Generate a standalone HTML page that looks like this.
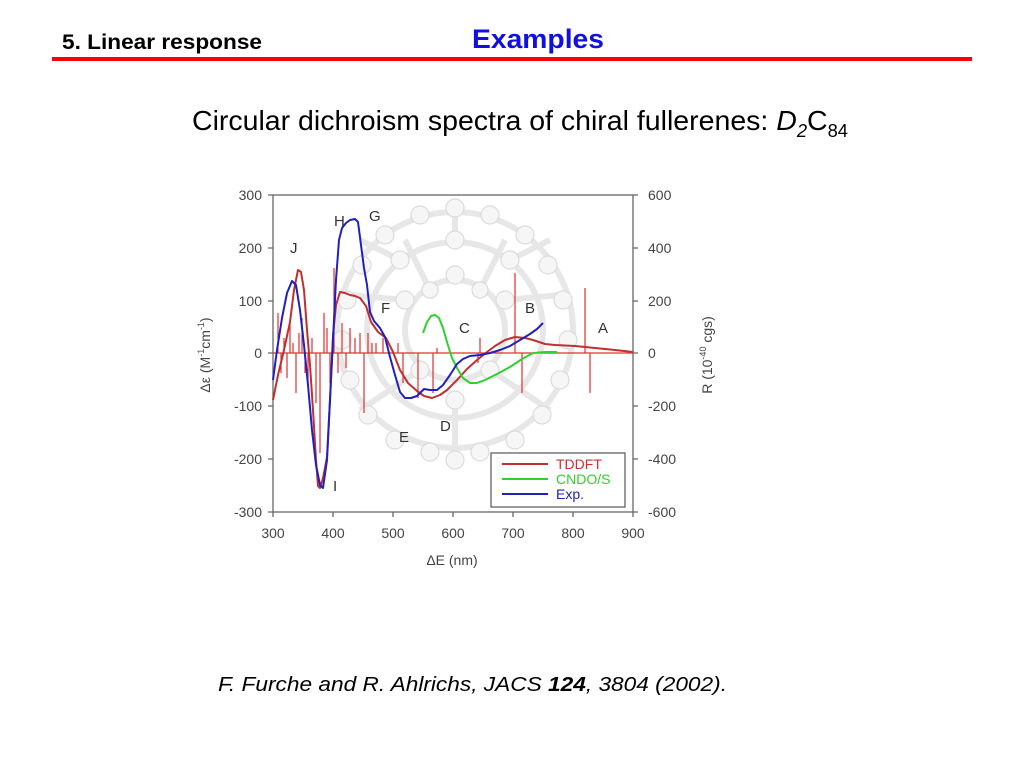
<!DOCTYPE html>
<html><head><style>
body{margin:0;background:#fff;width:1024px;height:768px;overflow:hidden}
svg{display:block;font-family:"Liberation Sans",Arial,sans-serif}
</style></head><body>
<svg width="1024" height="768" viewBox="0 0 1024 768">
<text x="62" y="49" font-size="21" font-weight="bold" fill="#000" textLength="200" lengthAdjust="spacingAndGlyphs">5. Linear response</text>
<text x="472" y="48" font-size="27" font-weight="bold" fill="#1010e0" textLength="132" lengthAdjust="spacingAndGlyphs">Examples</text>
<rect x="52" y="57" width="920" height="4" fill="#ff0000"/>
<text x="192" y="130" font-size="28" fill="#000" textLength="656" lengthAdjust="spacingAndGlyphs">Circular dichroism spectra of chiral fullerenes: <tspan font-style="italic">D</tspan><tspan font-size="18" dy="7" font-style="italic">2</tspan><tspan dy="-7">C</tspan><tspan font-size="18" dy="7">84</tspan></text>

<!-- fullerene background -->
<g opacity="0.7">
<g fill="none" stroke="#ddd" stroke-width="6">
<circle cx="455" cy="330" r="118"/>
<circle cx="455" cy="330" r="88"/>
<circle cx="455" cy="330" r="50"/>
<path d="M455 210v30M400 260l-40-20M510 260l40-20M405 300l-55-5M505 300l55-5M420 370l-60 40M490 370l60 40M455 400v50M430 290l-25-50M480 290l25-50"/>
</g>
<g fill="#f3f3f3" stroke="#ccc" stroke-width="1.2">
<circle cx="455" cy="208" r="9"/><circle cx="420" cy="215" r="9"/><circle cx="490" cy="215" r="9"/>
<circle cx="385" cy="235" r="9"/><circle cx="525" cy="235" r="9"/><circle cx="362" cy="265" r="9"/>
<circle cx="548" cy="265" r="9"/><circle cx="347" cy="300" r="9"/><circle cx="563" cy="300" r="9"/>
<circle cx="342" cy="340" r="9"/><circle cx="568" cy="340" r="9"/><circle cx="350" cy="380" r="9"/>
<circle cx="560" cy="380" r="9"/><circle cx="368" cy="415" r="9"/><circle cx="542" cy="415" r="9"/>
<circle cx="395" cy="440" r="9"/><circle cx="515" cy="440" r="9"/><circle cx="430" cy="452" r="9"/>
<circle cx="480" cy="452" r="9"/><circle cx="455" cy="275" r="9"/><circle cx="405" cy="300" r="9"/>
<circle cx="505" cy="300" r="9"/><circle cx="420" cy="370" r="9"/><circle cx="490" cy="370" r="9"/>
<circle cx="455" cy="400" r="9"/><circle cx="455" cy="240" r="9"/><circle cx="400" cy="260" r="9"/><circle cx="510" cy="260" r="9"/>
<circle cx="430" cy="290" r="8"/><circle cx="480" cy="290" r="8"/><circle cx="455" cy="460" r="9"/>
</g></g>

<!-- axes -->
<g stroke="#666" stroke-width="1.3" fill="none">
<rect x="273" y="195" width="360" height="317"/>
<path d="M268 195h5M268 248h5M268 301h5M268 353h5M268 406h5M268 459h5M268 512h5"/>
<path d="M633 195h5M633 248h5M633 301h5M633 353h5M633 406h5M633 459h5M633 512h5"/>
<path d="M273 512v5M333 512v5M393 512v5M453 512v5M513 512v5M573 512v5M633 512v5"/>
</g>
<g font-size="14" fill="#444" text-anchor="end">
<text x="262" y="200">300</text><text x="262" y="253">200</text><text x="262" y="306">100</text><text x="262" y="358">0</text><text x="262" y="411">-100</text><text x="262" y="464">-200</text><text x="262" y="517">-300</text>
</g>
<g font-size="14" fill="#444">
<text x="648" y="200">600</text><text x="648" y="253">400</text><text x="648" y="306">200</text><text x="648" y="358">0</text><text x="648" y="411">-200</text><text x="648" y="464">-400</text><text x="648" y="517">-600</text>
</g>
<g font-size="14" fill="#444" text-anchor="middle">
<text x="273" y="538">300</text><text x="333" y="538">400</text><text x="393" y="538">500</text><text x="453" y="538">600</text><text x="513" y="538">700</text><text x="573" y="538">800</text><text x="633" y="538">900</text>
<text x="452" y="565">ΔE (nm)</text>
</g>
<text transform="translate(210,355) rotate(-90)" font-size="14" fill="#444" text-anchor="middle">Δε (M<tspan font-size="9" dy="-6">-1</tspan><tspan dy="6">cm</tspan><tspan font-size="9" dy="-6">-1</tspan><tspan dy="6">)</tspan></text>
<text transform="translate(712,355) rotate(-90)" font-size="14" fill="#444" text-anchor="middle">R (10<tspan font-size="9" dy="-6">-40</tspan><tspan dy="6"> cgs)</tspan></text>

<!-- sticks -->
<g stroke="#e03030" stroke-width="1.2">
<path d="M273 353h360"/>
<path d="M278 353v-40M281 353v20M284 353v-15M287 353v25M290 353v-30M293 353v-10M296 353v40M299 353v-20M302 353v-35M305 353v20M308 353v30M312 353v-15M316 353v50M320 353v100M324 353v-40M327 353v-25M330 353v30M334 353v-85M338 353v20M342 353v-30M346 353v15M350 353v-25M355 353v-15M360 353v-20M364 353v60M368 353v-20M372 353v-10M376 353v-10M383 353v-15M398 353v-10M403 353v30M418 353v45M433 353v40M437 353v-5M478 353v10M480 353v-15M515 353v-80M522 353v40M585 353v-65M590 353v40"/>
</g>
<!-- curves -->
<g fill="none" stroke-width="2" stroke-linejoin="round">
<polyline stroke="#c03030" points="273,400 278,375 284,350 290,322 294,290 298,270 301,272 304,290 307,330 310,365 313,410 316,460 318,486 320,488 323,478 327,457 330,400 333,335 336,305 340,292 345,293 350,295 355,296 360,298 366,306 371,322 378,332 386,338 393,352 400,370 408,383 417,391 424,396 432,398 440,395 447,390 457,380 467,369 477,360 487,352 495,346 505,340 515,337 525,338 533,340 545,344 555,345 575,346 595,348 615,350 633,352"/>
<polyline stroke="#30d030" points="423,333 427,322 431,316 435,315 439,318 443,328 447,342 452,358 457,368 463,378 470,383 477,383 485,380 497,374 510,367 522,359 533,353 545,352 557,352"/>
<polyline stroke="#2020c0" points="273,380 277,350 282,318 287,293 292,281 296,285 300,310 304,345 308,385 312,430 316,465 320,485 323,488 327,460 330,400 333,340 336,280 339,240 342,228 346,223 350,220 355,219 358,222 361,245 364,268 367,285 370,312 374,321 380,328 385,337 390,357 395,375 400,392 405,398 411,398 417,396 424,389 430,390 437,390 443,385 450,375 457,364 463,359 470,356 480,355 490,353 500,350 510,346 520,340 530,334 537,329 543,323"/>
</g>
<!-- letters -->
<g font-size="15" fill="#333">
<text x="290" y="253">J</text><text x="334" y="226">H</text><text x="369" y="221">G</text><text x="381" y="313">F</text><text x="459" y="333">C</text><text x="525" y="313">B</text><text x="598" y="333">A</text><text x="440" y="431">D</text><text x="399" y="442">E</text><text x="333" y="491">I</text>
</g>
<!-- legend -->
<rect x="491" y="453" width="134" height="54" fill="#fff" stroke="#555" stroke-width="1.2"/>
<g stroke-width="2"><path stroke="#c03030" d="M502 464h46"/><path stroke="#30d030" d="M502 479h46"/><path stroke="#2020c0" d="M502 494h46"/></g>
<g font-size="14"><text x="556" y="469" fill="#d03030">TDDFT</text><text x="556" y="484" fill="#30d030">CNDO/S</text><text x="556" y="499" fill="#2020c0">Exp.</text></g>

<text x="218" y="691" font-size="20" font-style="italic" fill="#000" textLength="509" lengthAdjust="spacingAndGlyphs">F. Furche and R. Ahlrichs, JACS <tspan font-weight="bold">124</tspan>, 3804 (2002).</text>
</svg>
</body></html>
